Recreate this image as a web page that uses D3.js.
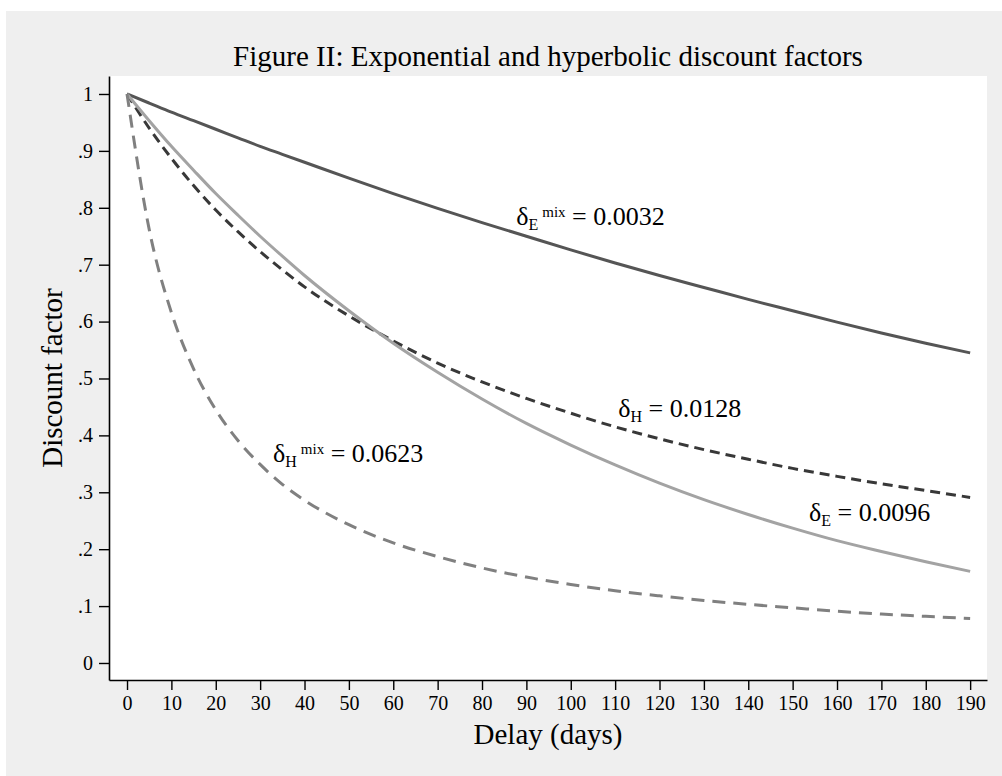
<!DOCTYPE html>
<html>
<head>
<meta charset="utf-8">
<script src="https://cdn.jsdelivr.net/npm/d3@7"></script>
<style>
  body { margin: 0; background: #fff; }
  svg { display: block; font-family: "Liberation Serif", "Times New Roman", serif; }
</style>
</head>
<body>
<div id="chart"></div>
<script>
// delay in days
const days = [0, 5, 10, 15, 20, 25, 30, 35, 40, 50, 60, 70, 80, 90, 100, 110, 120, 130, 140, 150, 160, 170, 180, 190];

// discount factors
const expMix = [1, .984, .968, .953, .938, .923, .908, .894, .880, .852, .825, .799, .774, .750, .726, .703, .681, .660, .639, .619, .599, .580, .562, .545];
const hyp    = [1, .940, .887, .839, .796, .758, .723, .691, .661, .610, .566, .527, .494, .465, .439, .415, .394, .375, .358, .342, .328, .315, .303, .291];
const expo   = [1, .953, .908, .866, .825, .787, .750, .715, .681, .619, .562, .511, .464, .421, .383, .348, .316, .287, .261, .237, .215, .196, .178, .161];
const hypMix = [1, .762, .616, .517, .445, .391, .349, .314, .286, .243, .211, .187, .167, .151, .138, .127, .118, .110, .103, .097, .091, .086, .082, .078];

const xTicks = d3.range(0, 191, 10);
const yTicks = [0, .1, .2, .3, .4, .5, .6, .7, .8, .9, 1];
const yTickLabels = ["0", ".1", ".2", ".3", ".4", ".5", ".6", ".7", ".8", ".9", "1"];

// label anchors in data units: [day, factor]
const labels = [
  {sym: "E", sup: "mix", val: "0.0032", at: [87.7, .770]},
  {sym: "H", sup: null,  val: "0.0128", at: [110.7, .432]},
  {sym: "H", sup: "mix", val: "0.0623", at: [32.9, .353]},
  {sym: "E", sup: null,  val: "0.0096", at: [153.7, .2496]}
];

const W = 1002, H = 776;
const plot = {left: 109, right: 987, top: 76, bottom: 680};

const svg = d3.select("#chart").append("svg")
    .attr("width", W)
    .attr("height", H);

svg.append("rect")
    .attr("x", 6).attr("y", 11)
    .attr("width", W - 6).attr("height", H - 11)
    .attr("fill", "#efefef");

svg.append("rect")
    .attr("x", plot.left).attr("y", plot.top)
    .attr("width", plot.right - plot.left).attr("height", plot.bottom - plot.top)
    .attr("fill", "#fff");

const x = d3.scaleLinear().domain([-4.06, 193.8]).range([plot.left, plot.right]);
const y = d3.scaleLinear().domain([-0.0299, 1.0316]).range([plot.bottom, plot.top]);

const series = [
  {vals: expMix, color: "#555555", dash: null},
  {vals: hyp,    color: "#383838", dash: "10,6"},
  {vals: expo,   color: "#a3a3a3", dash: null},
  {vals: hypMix, color: "#808080", dash: "13,8"}
];

const line = d3.line()
    .x((d, i) => x(days[i]))
    .y(d => y(d))
    .curve(d3.curveMonotoneX);

svg.append("g").selectAll("path")
    .data(series)
    .enter().append("path")
    .attr("d", d => line(d.vals))
    .attr("fill", "none")
    .attr("stroke", d => d.color)
    .attr("stroke-width", 3)
    .attr("stroke-dasharray", d => d.dash);

// axes
const yAxis = svg.append("g")
    .attr("transform", `translate(${plot.left},0)`)
    .call(d3.axisLeft(y).tickValues(yTicks).tickSize(10).tickSizeOuter(0).tickPadding(6)
        .tickFormat((d, i) => yTickLabels[i]));

const xAxis = svg.append("g")
    .attr("transform", `translate(0,${plot.bottom})`)
    .call(d3.axisBottom(x).tickValues(xTicks).tickSize(10).tickSizeOuter(0).tickPadding(6));

[yAxis, xAxis].forEach(a => {
  a.select(".domain").attr("stroke", "#000").attr("stroke-width", 1.6);
  a.selectAll(".tick line").attr("stroke", "#000").attr("stroke-width", 1.4);
  a.selectAll(".tick text")
      .attr("fill", "#000")
      .style("font-family", "'Liberation Serif', 'Times New Roman', serif")
      .style("font-size", "20px");
});

// titles
svg.append("text")
    .attr("x", (plot.left + plot.right) / 2)
    .attr("y", 66)
    .attr("text-anchor", "middle")
    .style("font-size", "29px")
    .text("Figure II: Exponential and hyperbolic discount factors");

svg.append("text")
    .attr("x", (plot.left + plot.right) / 2)
    .attr("y", 744)
    .attr("text-anchor", "middle")
    .style("font-size", "29px")
    .text("Delay (days)");

svg.append("text")
    .attr("transform", `translate(62,${(plot.top + plot.bottom) / 2}) rotate(-90)`)
    .attr("text-anchor", "middle")
    .style("font-size", "29px")
    .text("Discount factor");

// curve labels
labels.forEach(l => {
  const t = svg.append("text")
      .attr("x", x(l.at[0]))
      .attr("y", y(l.at[1]))
      .style("font-size", "26px");
  t.append("tspan").text("δ");
  t.append("tspan").attr("dy", 5).style("font-size", "16px").text(l.sym);
  let back = -5;
  if (l.sup) {
    t.append("tspan").attr("dx", 4).attr("dy", -13).style("font-size", "15px").text(l.sup);
    back = 8;
  }
  t.append("tspan").attr("dy", back).text(" = " + l.val);
});
</script>
</body>
</html>
